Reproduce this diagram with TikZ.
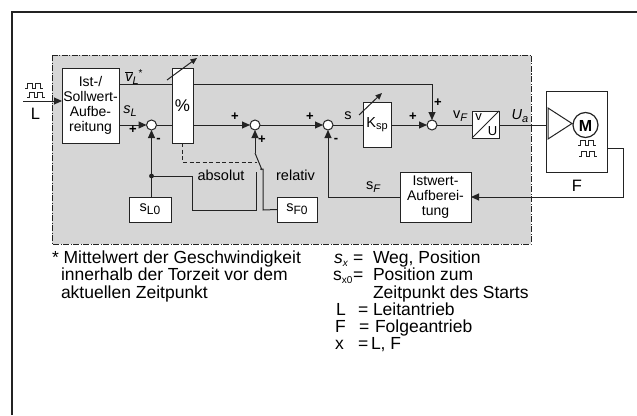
\documentclass[tikz,border=0pt]{standalone}
\usepackage{fontspec}
\setmainfont{Liberation Sans}
\usetikzlibrary{arrows.meta}
\definecolor{bgc}{RGB}{214,214,214}
\definecolor{ln}{RGB}{35,35,35}
\newcommand\sbx[2][11]{\raisebox{-0.35ex}{\fontsize{#1}{#1}\selectfont #2}}
\newcommand\pulserow[2]{\draw[ln,line width=0.9pt] (#1,#2) -- ++(2,0) -- ++(0,-5) -- ++(5,0) -- ++(0,5) -- ++(3,0) -- ++(0,-5) -- ++(5,0) -- ++(0,5) -- ++(3,0);}
\begin{document}
\begin{tikzpicture}[x=1pt,y=-1pt,
  every node/.style={inner sep=0pt, outer sep=0pt},
  blk/.style={draw=ln, fill=white, line width=1pt},
  sig/.style={draw=ln, line width=1pt},
  arr/.style={sig, -{Triangle[length=8pt,width=7pt]}},
  adj/.style={sig, -{Triangle[length=6.5pt,width=5.5pt]}},
  sumc/.style={circle, draw=ln, fill=white, line width=1pt, minimum size=10pt},
  lbl/.style={font=\fontsize{14.5}{15}\selectfont},
  bxt/.style={font=\fontsize{14}{15.2}\selectfont, align=center},
  pm/.style={font=\fontsize{13}{13}\selectfont\bfseries},
  leg/.style={anchor=base west, font=\fontsize{17.5}{17.5}\selectfont}]
\useasboundingbox (0,0) rectangle (637,415);
% outer frame
\draw[ln, line width=1.2pt] (12,415) -- (12,12) -- (637,12);
% gray region
\fill[bgc] (52,55) rectangle (531,244);
\draw[ln, line width=0.7pt, dash pattern=on 6pt off 1.5pt on 1pt off 1.5pt] (52,55) rectangle (531,244);

% blocks
\node[blk, bxt, minimum width=57pt, minimum height=75pt] (b1) at (90.5,105.5) {Ist-/\\Sollwert-\\Aufbe-\\reitung};
\node[blk, minimum width=21pt, minimum height=75pt] (pct) at (182.5,105.5) {\fontsize{17}{17}\selectfont\%};
\node[blk, lbl, minimum width=42pt, minimum height=25pt] (sl0) at (150,209.5) {s\sbx[12]{L0}};
\node[blk, lbl, minimum width=40pt, minimum height=25pt] (sf0) at (297,209.5) {s\sbx[12]{F0}};
\node[blk, lbl, minimum width=28pt, minimum height=45pt] (ksp) at (377,124.5) {K\sbx{sp}};
\node[blk, minimum width=27pt, minimum height=27pt] (vu) at (485.5,124.5) {};
\node[blk, bxt, minimum width=71pt, minimum height=50pt] (ist) at (435.5,197) {Istwert-\\Aufberei-\\tung};
\node[blk, minimum width=61pt, minimum height=81pt] (mot) at (576.5,131.5) {};

% summing points
\node[sumc] (c1) at (151.5,125) {};
\node[sumc] (c2) at (255,125) {};
\node[sumc] (c3) at (328,125) {};
\node[sumc] (c4) at (432,125) {};

% input
\coordinate (in) at (23,101);
\draw[arr] (in) -- (b1.west |- in);
\pulserow{25}{88}
\pulserow{27}{97}
\node[font=\fontsize{16.5}{16.5}\selectfont] (lL) at (35.5,114) {L};

% v_L line
\draw[sig] (b1.east |- 0,84) -- (pct.west |- 0,84);
\draw[arr] (pct.east |- 0,84) -- (c4 |- 0,84) -- (c4.north);
% main path
\draw[arr] (b1.east |- c1) -- (c1.west);
\draw[sig] (c1.east) -- (pct.west |- c1);
\draw[arr] (pct.east |- c2) -- (c2.west);
\draw[arr] (c2.east) -- (c3.west);
\draw[sig] (c3.east) -- (ksp.west |- c3);
\draw[arr] (ksp.east |- c4) -- (c4.west);
\draw[sig] (c4.east) -- (vu.west |- c4);
\draw[sig] (vu.east |- c4) -- (mot.west |- c4);

% s_L0 branch
\coordinate (dot) at (151.5,176);
\draw[arr] (c1 |- sl0.north) -- (c1.south);
\fill[ln] (dot) circle (2.4pt);
\coordinate (ca) at (256,172);
\draw[sig] (dot) -- (192,176) -- (192,210) -- (256,210) -- (ca);
% switch
\coordinate (piv) at (255,153);
\draw[arr] (piv) -- (c2.south);
\draw[sig] (piv) -- (262,170);
\coordinate (cr) at (263,169);
\draw[sig] (260,169) -- (cr) -- (263,210) -- (sf0.west);
\draw[ln, line width=0.8pt, dash pattern=on 4pt off 2.5pt] (pct.south) -- (182.5,162) -- (257,162);

% feedback
\draw[arr] (mot.east |- 0,148) -- (623,148) -- (623,197) -- (ist.east |- 0,197);
\draw[arr] (ist.west) -- (c3 |- ist.west) -- (c3.south);

% adjust arrows
\draw[adj] (167,80) -- (197,58);
\draw[adj] (359,115) -- (382,93);

% v/U
\draw[sig] (vu.south west) -- (vu.north east);
\node[font=\fontsize{13}{13}\selectfont] at (478.5,117) {v};
\node[font=\fontsize{13}{13}\selectfont] at (492.5,131.5) {U};

% motor
\draw[ln, line width=1pt] (548,108) -- (548,139) -- (572,123.5) -- cycle;
\draw[ln, line width=1.2pt] (585.5,125) circle (12.5pt);
\node[font=\fontsize{16}{16}\selectfont\bfseries] at (585.5,125.5) {M};
\pulserow{578}{145}
\pulserow{579}{156}
\node[font=\fontsize{16.5}{16.5}\selectfont] (lF) at (577,186) {F};

% signal labels
\node[lbl] at (134,77) {$\overline{\mbox{\itshape v}}$\sbx{\itshape L}\raisebox{0.6ex}{\fontsize{10}{10}\selectfont *}};
\node[lbl] at (130,111) {\itshape s\sbx{L}};
\node[lbl] at (348,116) {s};
\node[lbl] at (460,116) {v\sbx{\itshape F}};
\node[lbl] at (520,116) {\itshape U\sbx{a}};
\node[lbl] at (373,187) {s\sbx{\itshape F}};
\node[lbl] at (221,175) {absolut};
\node[lbl] at (295.5,175) {relativ};

% signs
\node[pm] at (133,130) {+};
\node[pm] at (158.5,140) {-};
\node[pm] at (235,117) {+};
\node[pm] at (262,140) {+};
\node[pm] at (310,117) {+};
\node[pm] at (336,140) {-};
\node[pm] at (413,117) {+};
\node[pm] at (438,103) {+};

% footnote
\node[leg] at (52,263) {* Mittelwert der Geschwindigkeit};
\node[leg] at (61,280.5) {innerhalb der Torzeit vor dem};
\node[leg] at (61,298) {aktuellen Zeitpunkt};
% legend
\node[leg] at (334,263) {\itshape s\sbx[10]{x}};
\node[leg] at (353,263) {=};
\node[leg] at (373,263) {Weg, Position};
\node[leg] at (333,280.5) {s\sbx[10]{x0}};
\node[leg] at (353,280.5) {=};
\node[leg] at (373,280.5) {Position zum};
\node[leg] at (373,298) {Zeitpunkt des Starts};
\node[leg] at (336,315) {L};
\node[leg] at (358,315) {=};
\node[leg] at (373,315) {Leitantrieb};
\node[leg] at (335,332) {F};
\node[leg] at (359,332) {=};
\node[leg] at (375,332) {Folgeantrieb};
\node[leg] at (335,349) {x};
\node[leg] at (358,349) {=};
\node[leg] at (371,349) {L, F};
\end{tikzpicture}
\end{document}
